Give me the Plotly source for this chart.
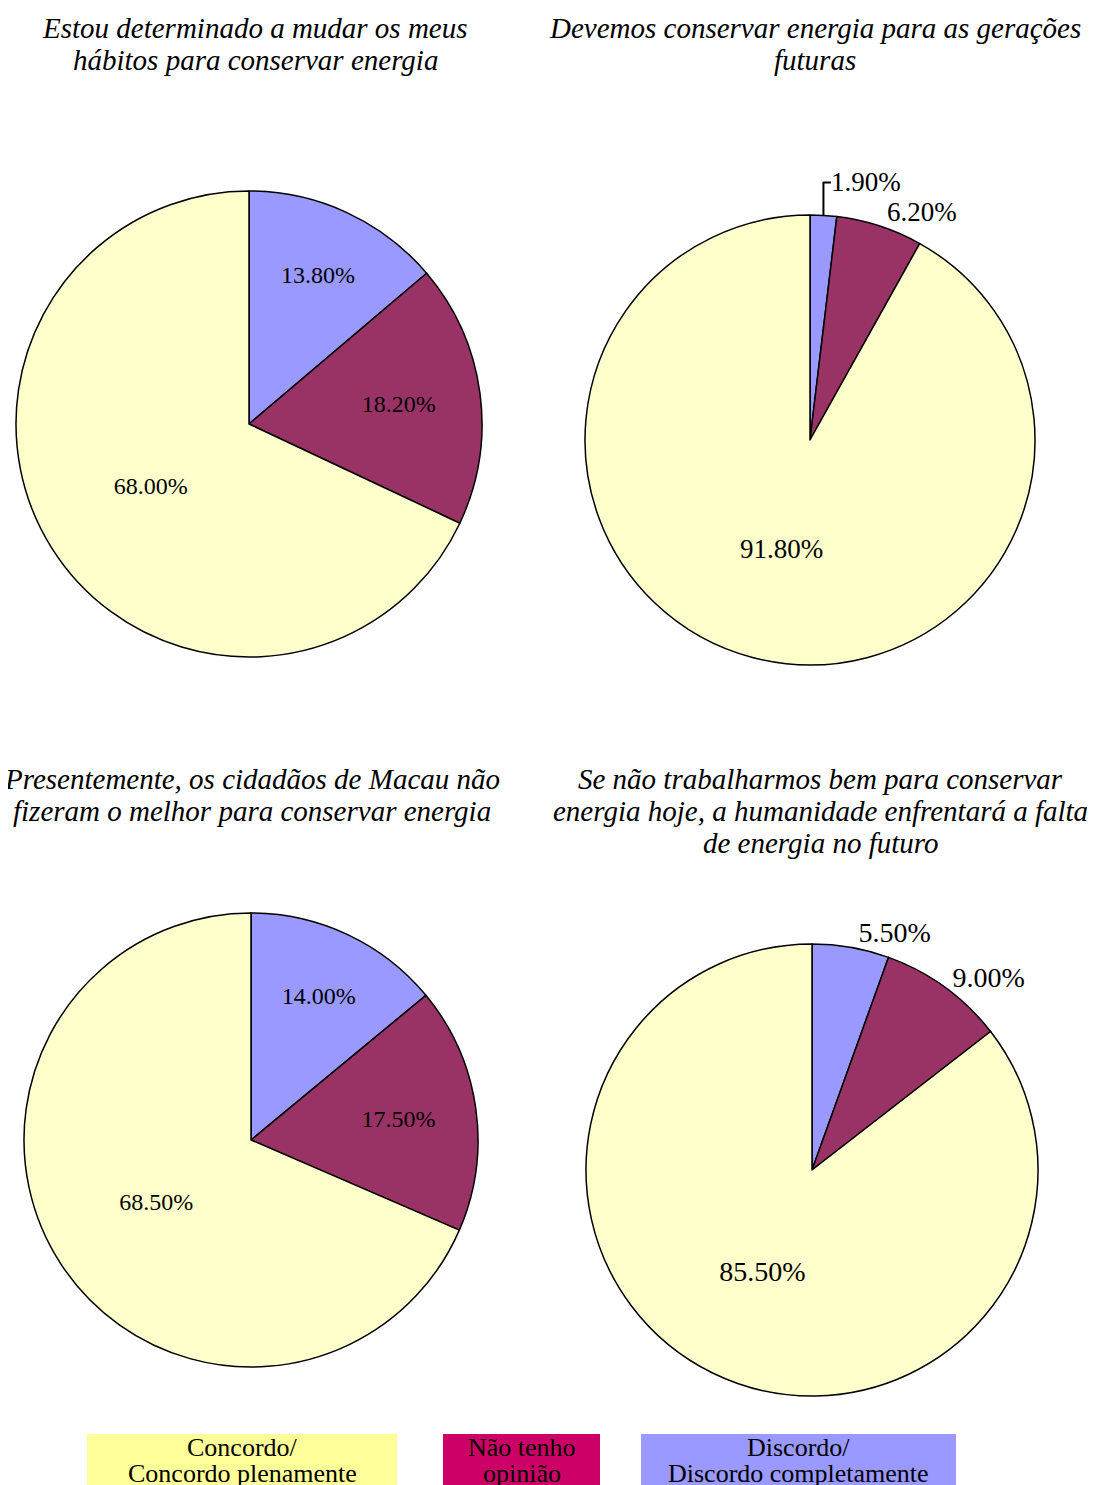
import plotly.graph_objects as go

W, H = 1096, 1485

# Data (slice order: clockwise from 12 o'clock)
slice_labels = ["Discordo/ Discordo completamente", "Não tenho opinião", "Concordo/ Concordo plenamente"]
slice_colors = ["#9999FF", "#993366", "#FFFFCC"]

titles = [
    ["Estou determinado a mudar os meus", "hábitos para conservar energia"],
    ["Devemos conservar energia para as gerações", "futuras"],
    ["Presentemente, os cidadãos de Macau não", "fizeram o melhor para conservar energia"],
    ["Se não trabalharmos bem para conservar", "energia hoje, a humanidade enfrentará a falta", "de energia no futuro"],
]
values = [
    [13.8, 18.2, 68.0],
    [1.9, 6.2, 91.8],
    [14.0, 17.5, 68.5],
    [5.5, 9.0, 85.5],
]
text_positions = [
    ["inside", "inside", "inside"],
    ["outside", "outside", "inside"],
    ["inside", "inside", "inside"],
    ["outside", "outside", "inside"],
]
label_sizes = [24, 27, 24, 28]

legend_labels = [["Concordo/", "Concordo plenamente"], ["Não tenho", "opinião"], ["Discordo/", "Discordo completamente"]]
legend_colors = ["#FFFF99", "#CC0066", "#9999FF"]

# Layout (pixel geometry in the page; body margin offset compensated)
OFF = 8
pie_geom = [(249, 424, 233), (810, 440, 225), (251, 1140, 227), (812, 1170, 226)]
title_geom = [(255, 28), (815, 28), (252, 779), (820, 779)]
title_line_h = 32
legend_boxes = [(87, 397), (443, 600), (641, 956)]
legend_top, legend_bottom = 1434, 1500
legend_line_y = [1447, 1473]

def px(x):
    return (x - OFF) / W

def py(y):
    return 1 - (y - OFF) / H

fig = go.Figure()
serif = "Liberation Serif, Times New Roman, serif"

for i in range(4):
    cx, cy, r = pie_geom[i]
    fig.add_trace(go.Pie(
        labels=slice_labels,
        values=values[i],
        sort=False,
        direction="clockwise",
        rotation=0,
        marker=dict(colors=slice_colors, line=dict(color="black", width=1.5)),
        texttemplate="%{value:.2f}%",
        textposition=text_positions[i],
        insidetextorientation="horizontal",
        textfont=dict(family=serif, size=label_sizes[i], color="black"),
        showlegend=False,
        hoverinfo="label+value",
        domain=dict(x=[px(cx - r), px(cx + r)], y=[py(cy + r), py(cy - r)]),
    ))

annotations = []
for i, lines in enumerate(titles):
    tx, ty = title_geom[i]
    for j, line in enumerate(lines):
        annotations.append(dict(
            x=px(tx), y=py(ty + j * title_line_h), xref="paper", yref="paper",
            text=f"<i>{line}</i>", showarrow=False, xanchor="center", yanchor="middle",
            font=dict(family=serif, size=29, color="black"),
        ))

shapes = []
for k, (x0, x1) in enumerate(legend_boxes):
    shapes.append(dict(
        type="rect", xref="paper", yref="paper",
        x0=px(x0), x1=px(x1), y0=py(legend_bottom), y1=py(legend_top),
        fillcolor=legend_colors[k], line=dict(width=0), layer="below",
    ))
    for j, line in enumerate(legend_labels[k]):
        annotations.append(dict(
            x=px((x0 + x1) / 2), y=py(legend_line_y[j]), xref="paper", yref="paper",
            text=line, showarrow=False, xanchor="center", yanchor="middle",
            font=dict(family=serif, size=26, color="black"),
        ))

fig.update_layout(
    width=W, height=H,
    margin=dict(l=0, r=0, t=0, b=0),
    paper_bgcolor="white", plot_bgcolor="white",
    annotations=annotations, shapes=shapes,
)

fig.write_html("out.html")
